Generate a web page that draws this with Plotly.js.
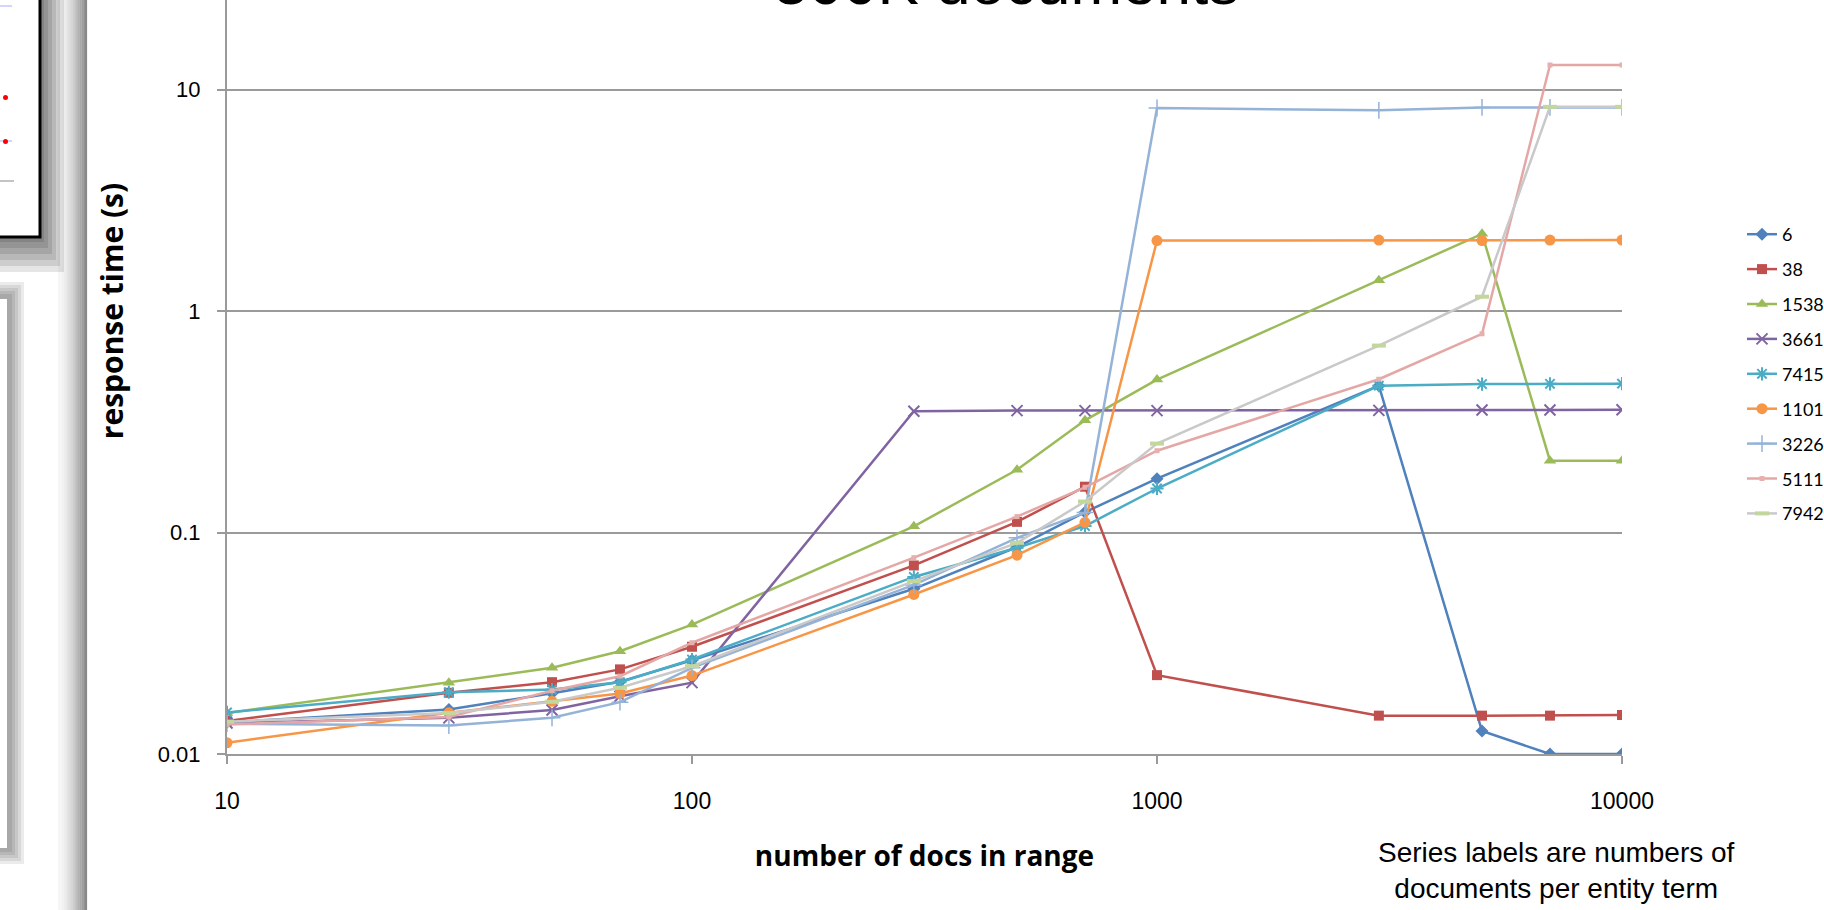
<!DOCTYPE html>
<html>
<head>
<meta charset="utf-8">
<script src="https://cdn.plot.ly/plotly-3.0.1.min.js"></script>
<style>
html,body{margin:0;padding:0;background:#fff;overflow:hidden;width:1824px;height:910px;}
#chart{position:absolute;left:0;top:-132px;width:1824px;height:1042px;}
</style>
</head>
<body>
<div id="chart"></div>
<script>
// ---- data ----
const docsInRange = [10, 30, 50, 70, 100, 300, 500, 700, 1000, 3000, 5000, 7000, 10000];
const seriesNames = ['6', '38', '1538', '3661', '7415', '1101', '3226', '5111', '7942'];
const s6    = [0.0139, 0.0159, 0.0188, 0.0212, 0.0265, 0.0557, 0.086, 0.1235, 0.175, 0.46, 0.0127, 0.0100, 0.0100];
const s38   = [0.0141, 0.0189, 0.0211, 0.0241, 0.0305, 0.071, 0.1117, 0.161, 0.0227, 0.0149, 0.0149, 0.0149, 0.0150];
const s1538 = [0.0153, 0.0210, 0.0245, 0.0291, 0.0384, 0.1066, 0.192, 0.321, 0.49, 1.377, 2.23, 0.211, 0.211];
const s3661 = [0.0138, 0.01456, 0.0158, 0.01824, 0.0210, 0.353, 0.355, 0.355, 0.355, 0.356, 0.357, 0.357, 0.358];
const s7415 = [0.0154, 0.0190, 0.01955, 0.0211, 0.0267, 0.063, 0.0853, 0.107, 0.158, 0.46, 0.468, 0.469, 0.47];
const s1101 = [0.01124, 0.01535, 0.0173, 0.01875, 0.0226, 0.0525, 0.079, 0.111, 2.08, 2.09, 2.08, 2.09, 2.09];
const s3226 = [0.0137, 0.01345, 0.01457, 0.01714, 0.0245, 0.058, 0.0946, 0.123, 8.25, 8.05, 8.3, 8.3, 8.3];
const s5111 = [0.0136, 0.0147, 0.0193, 0.02245, 0.0318, 0.077, 0.118, 0.16, 0.234, 0.492, 0.789, 12.9, 12.9];
const s7942 = [0.0140, 0.0153, 0.0172, 0.0199, 0.0249, 0.0603, 0.0898, 0.138, 0.252, 0.698, 1.16, 8.35, 8.35];
const seriesValues = [s6, s38, s1538, s3661, s7415, s1101, s3226, s5111, s7942];
const xTickVals = [10, 100, 1000, 10000];
const xTickText = ['10', '100', '1000', '10000'];
const yTickVals = [0.01, 0.1, 1, 10, 100];
const yTickText = ['0.01', '0.1', '1', '10', '100'];

// ---- styles ----
const styles = [
  {line:'#4F81BD', marker:{symbol:'diamond', size:10, color:'#4F81BD'}},
  {line:'#C0504D', marker:{symbol:'square', size:10, color:'#C0504D'}},
  {line:'#9BBB59', marker:{symbol:'triangle-up', size:11, color:'#9BBB59'}},
  {line:'#8064A2', marker:{symbol:'x-thin-open', size:11, color:'#8064A2', line:{color:'#8064A2', width:2}}},
  {line:'#4BACC6', marker:{symbol:'asterisk-open', size:11, color:'#4BACC6', line:{color:'#4BACC6', width:2}}},
  {line:'#F79646', marker:{symbol:'circle', size:11, color:'#F79646'}},
  {line:'#95B3D7', marker:{symbol:'cross-thin-open', size:12, color:'#95B3D7', line:{color:'#95B3D7', width:1.5}}},
  {line:'#E4A7A6', marker:{symbol:'square', size:5, color:'#E6B0AF'}},
  {line:'#C9C9C9', marker:{symbol:'line-ew-open', size:10, color:'#C3D69B', line:{color:'#C3D69B', width:4}}}
];

const traces = seriesNames.map((name, i) => ({
  type:'scatter', mode:'lines+markers', name:name, legendgroup:'g'+i,
  x:docsInRange, y:seriesValues[i],
  line:{color:styles[i].line, width:2.5},
  marker:styles[i].marker
}));

// pixel helpers (layout only); real screen pixels, plot top is 132px above the window
const OFF = 132, H = 910 + OFF;
const L = 227, R = 1622, B = 754;
const PH = B + OFF;
const px = v => (v - L) / (R - L);
const py = v => (B - v) / PH;

const shapes = [];
// vertical shadow strip at left edge of slide
const stripN = 16;
for (let k = 0; k < stripN; k++) {
  const t = k / (stripN - 1);
  const g = Math.round(246 - Math.pow(t, 1.6) * 110);
  shapes.push({type:'rect', xref:'paper', yref:'paper', x0:px(58 + k*1.8), x1:px(58 + (k+1)*1.8 + 0.3), y0:py(-5), y1:py(915),
    fillcolor:`rgb(${g},${g},${g})`, line:{width:0}, layer:'below'});
}
// top-left box shadow
for (let k = 0; k < 6; k++) {
  shapes.push({type:'rect', xref:'paper', yref:'paper', x0:px(-20), x1:px(44 + k*4), y0:py(-20), y1:py(242 + k*6),
    fillcolor:'rgba(0,0,0,0.1)', line:{width:0}, layer:'below'});
}
// top-left box
shapes.push({type:'rect', xref:'paper', yref:'paper', x0:px(-20), x1:px(40), y0:py(-20), y1:py(237),
  fillcolor:'#ffffff', line:{color:'#000000', width:3}, layer:'below'});
shapes.push({type:'line', xref:'paper', yref:'paper', x0:px(0), x1:px(12), y0:py(6), y1:py(6), line:{color:'#a8a8ff', width:1}});
shapes.push({type:'line', xref:'paper', yref:'paper', x0:px(0), x1:px(12), y0:py(141), y1:py(141), line:{color:'#a8a8ff', width:1}});
shapes.push({type:'line', xref:'paper', yref:'paper', x0:px(0), x1:px(14), y0:py(181), y1:py(181), line:{color:'#888888', width:1}});
shapes.push({type:'circle', xref:'paper', yref:'paper', x0:px(3), x1:px(8), y0:py(95), y1:py(100), fillcolor:'#ff0000', line:{width:0}});
shapes.push({type:'circle', xref:'paper', yref:'paper', x0:px(3), x1:px(8), y0:py(139), y1:py(144), fillcolor:'#ff0000', line:{width:0}});
// lower panel shadow + panel
for (let k = 0; k < 5; k++) {
  shapes.push({type:'rect', xref:'paper', yref:'paper', x0:px(-30), x1:px(12 + k*3), y0:py(294 - k*3), y1:py(852 + k*3),
    fillcolor:'rgba(0,0,0,0.08)', line:{width:0}, layer:'below'});
}
shapes.push({type:'rect', xref:'paper', yref:'paper', x0:px(-30), x1:px(7), y0:py(299), y1:py(848),
  fillcolor:'#ffffff', line:{width:0}, layer:'below'});

const annotations = [
  {text:'500K documents', xref:'paper', yref:'paper', x:px(1006), y:py(19), xanchor:'center', yanchor:'bottom',
   showarrow:false, font:{family:'Liberation Sans, Arial, sans-serif', size:62, color:'#000'}},
  {text:'Series labels are numbers of<br>documents per entity term', xref:'paper', yref:'paper', x:px(1556), y:py(871),
   xanchor:'center', yanchor:'middle', showarrow:false, align:'center',
   font:{family:'Liberation Sans, Arial, sans-serif', size:28, color:'#000'}}
];

const layout = {
  width:1824, height:H,
  margin:{l:L, r:1824-R, t:0, b:H-PH},
  paper_bgcolor:'#ffffff', plot_bgcolor:'#ffffff',
  showlegend:true,
  legend:{xref:'container', yref:'container', x:1742/1824, y:1-(216+OFF)/H, xanchor:'left', yanchor:'top',
    font:{family:'Lato, Open Sans, sans-serif', size:18, color:'#000'}, tracegroupgap:8.5, bgcolor:'rgba(0,0,0,0)'},
  xaxis:{type:'log', range:[1, 4], tickvals:xTickVals, ticktext:xTickText,
    showgrid:false, zeroline:false, showline:true, linecolor:'#9a9a9a', linewidth:2,
    ticks:'outside', ticklen:8, tickwidth:2, tickcolor:'#9a9a9a', ticklabelstandoff:17,
    tickfont:{family:'Liberation Sans, Arial, sans-serif', size:23, color:'#000'},
    title:{text:'number of docs in range', standoff:34, font:{family:'Open Sans, sans-serif', size:28, color:'#000', weight:'bold'}}},
  yaxis:{type:'log', range:[-2, 2], tickvals:yTickVals, ticktext:yTickText,
    showgrid:true, gridcolor:'#9a9a9a', gridwidth:2, zeroline:false, showline:true, linecolor:'#9a9a9a', linewidth:2,
    ticks:'outside', ticklen:8, tickwidth:2, tickcolor:'#9a9a9a', ticklabelstandoff:12,
    tickfont:{family:'Liberation Sans, Arial, sans-serif', size:22, color:'#000'},
    title:{text:'response time (s)', standoff:25, font:{family:'Open Sans, sans-serif', size:30, color:'#000', weight:'bold'}}},
  shapes:shapes,
  annotations:annotations
};

Plotly.newPlot('chart', traces, layout, {displayModeBar:false, staticPlot:true});
</script>
</body>
</html>
